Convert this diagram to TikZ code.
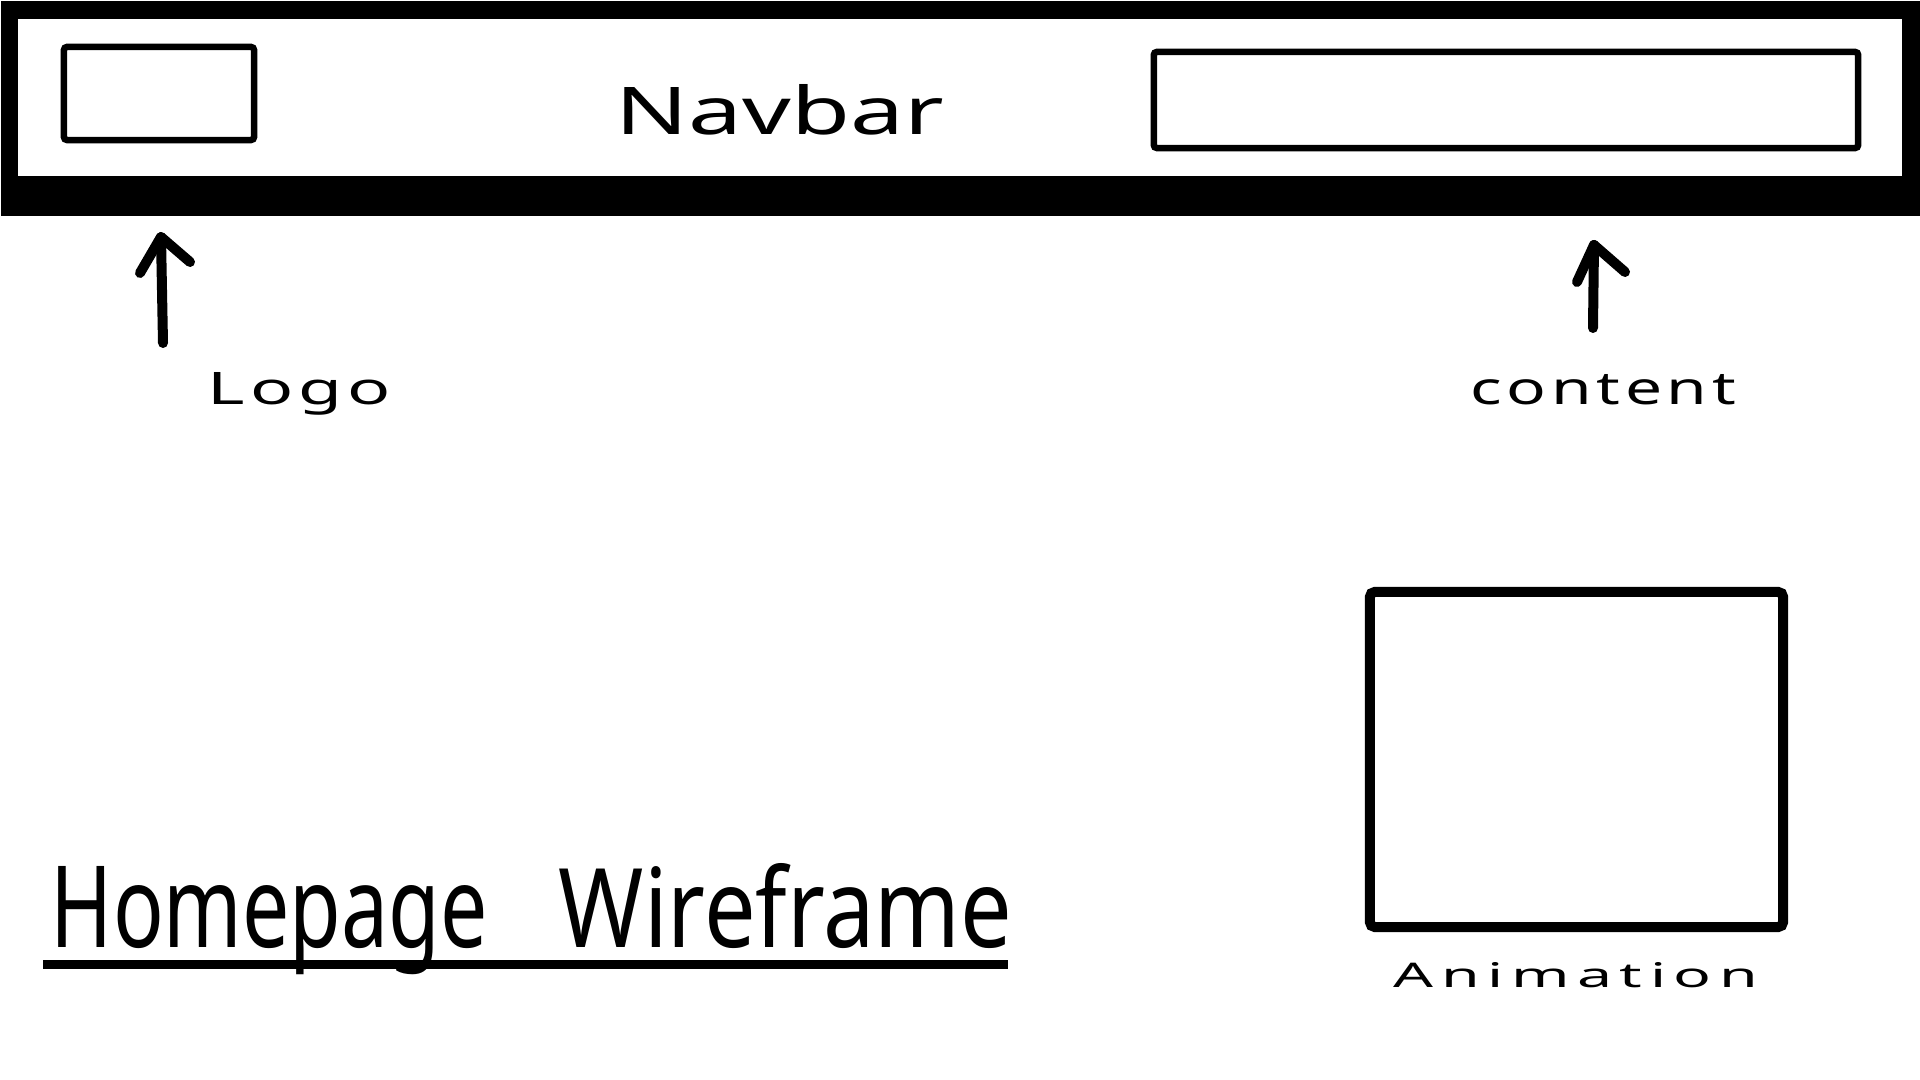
\documentclass[tikz,border=0pt]{standalone}
\usepackage{fontspec}
\usepackage{graphicx}
\setmainfont{Noto Sans}
\newfontfamily\spaced[LetterSpace=7]{Noto Sans}
\newfontfamily\spacedwide[LetterSpace=12]{Noto Sans}
\begin{document}
\begin{tikzpicture}[x=0.01cm,y=-0.01cm,
  box/.style={draw=black, line width=0.65mm, rounded corners=0.3mm, inner sep=0pt},
  bigbox/.style={draw=black, line width=1mm, rounded corners=0.5mm, inner sep=0pt},
  arrowline/.style={line width=1mm, line cap=round, line join=round},
  lbl/.style={inner sep=0pt, anchor=base west}]
\useasboundingbox (0,0) rectangle (1920,1080);
\fill[white] (0,0) rectangle (1920,1080);
% navbar frame
\node[fill=black, inner sep=0pt, minimum width=19.2cm, minimum height=2.15cm, anchor=north west] (navbar) at (0,0) {};
\fill[white] (18,19) rectangle (1902,176);
% boxes
\node[box, minimum width=1.90cm, minimum height=0.93cm] (logobox) at (159,93.5) {};
\node[box, minimum width=7.04cm, minimum height=0.96cm] (contentbox) at (1506,100) {};
\node[bigbox, minimum width=4.13cm, minimum height=3.35cm] (animbox) at (1576.5,759.5) {};
% texts
\node[lbl] (navtxt) at (615,135) {\resizebox{3.28cm}{0.50cm}{Navbar}};
\node[lbl] (logotxt) at (207,405) {\resizebox{1.83cm}{0.32cm}{\spaced Logo}};
\node[lbl] (contenttxt) at (1470,405) {\resizebox{2.65cm}{0.30cm}{\spaced content}};
\node[lbl] (animtxt) at (1393,988) {\resizebox{3.64cm}{0.25cm}{\spacedwide Animation}};
\node[lbl] (title) at (50,948) {\resizebox{4.37cm}{0.81cm}{Homepage}\hspace{0.71cm}\resizebox{4.53cm}{0.84cm}{Wireframe}};
% underline
\coordinate (ulA) at (43,964.5);
\coordinate (ulB) at (1008,964.5);
\draw[line width=0.9mm] (ulA) -- (ulB);
% logo arrow
\coordinate (ltail) at (163,343);
\coordinate (ltip) at (161,237);
\coordinate (lhl) at (140,273);
\coordinate (lhr) at (190,262);
\draw[arrowline] (ltail) -- (ltip);
\draw[arrowline] (lhl) -- (ltip) -- (lhr);
% content arrow
\coordinate (ctail) at (1593,328);
\coordinate (ctip) at (1594,245);
\coordinate (chl) at (1577,282);
\coordinate (chr) at (1625,272);
\draw[arrowline] (ctail) -- (ctip);
\draw[arrowline] (chl) -- (ctip) -- (chr);
\end{tikzpicture}
\end{document}
